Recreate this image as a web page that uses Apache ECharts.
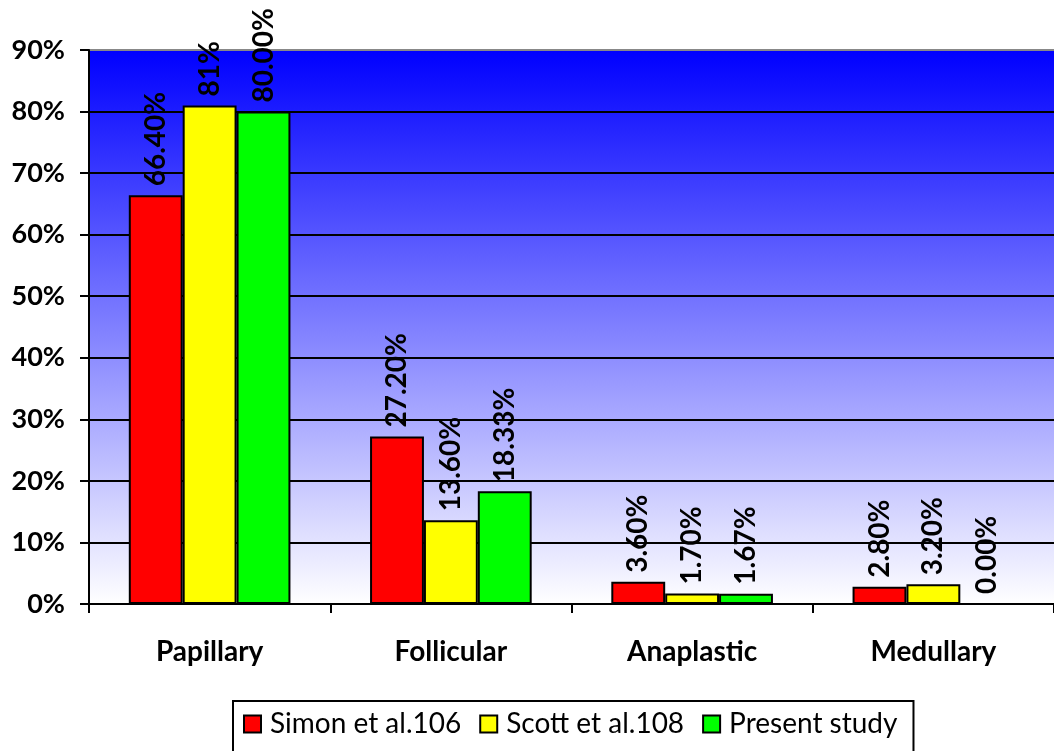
<!DOCTYPE html>
<html>
<head>
<meta charset="utf-8">
<script src="https://cdn.jsdelivr.net/npm/echarts@6/dist/echarts.min.js"></script>
<style>
  html, body { margin: 0; padding: 0; background: #ffffff; }
  #chart { width: 1054px; height: 751px; }
</style>
</head>
<body>
<div id="chart"></div>
<script>
// Thyroid carcinoma types: share of cases in each study (%)
const categories = ['Papillary', 'Follicular', 'Anaplastic', 'Medullary'];
const seriesNames = ['Simon et al.106', 'Scott et al.108', 'Present study'];
const simonValues = [66.4, 27.2, 3.6, 2.8];
const scottValues = [81, 13.6, 1.7, 3.2];
const presentValues = [80, 18.33, 1.67, 0];
// decimals shown in each value label
const simonDecimals = [2, 2, 2, 2];
const scottDecimals = [0, 2, 2, 2];
const presentDecimals = [2, 2, 2, 2];
const yTicks = { min: 0, max: 90, interval: 10 };

const FONT = 'Lato';
const barColors = ['#ff0000', '#ffff00', '#00ff00'];

function makeSeries(name, values, decimals, color) {
  return {
    name: name,
    type: 'bar',
    data: values,
    barGap: '0%',
    barCategoryGap: '33%',
    itemStyle: { color: color, borderColor: '#000000', borderWidth: 2 },
    label: {
      show: true,
      position: 'top',
      rotate: 90,
      align: 'left',
      verticalAlign: 'middle',
      distance: 9,
      fontFamily: FONT,
      fontWeight: 'bold',
      fontSize: 28,
      color: '#000000',
      formatter: p => p.value.toFixed(decimals[p.dataIndex]) + '%'
    }
  };
}

const chart = echarts.init(document.getElementById('chart'), null, { renderer: 'canvas' });

// grid lines: black, the top one grey
const splitColors = [];
for (let v = yTicks.min; v <= yTicks.max; v += yTicks.interval) splitColors.push('#000000');
splitColors[splitColors.length - 1] = '#888888';

chart.setOption({
  animation: false,
  textStyle: { fontFamily: FONT },
  grid: {
    left: 89, top: 50, width: 968, height: 554,
    show: true,
    borderWidth: 0,
    backgroundColor: new echarts.graphic.LinearGradient(0, 0, 0, 1, [
      { offset: 0, color: '#0000ff' },
      { offset: 1, color: '#ffffff' }
    ])
  },
  legend: {
    data: seriesNames,
    left: 233,
    top: 701,
    padding: [9, 16, 30, 10],
    borderColor: '#000000',
    borderWidth: 2,
    itemWidth: 17,
    itemHeight: 17,
    itemGap: 18,
    icon: 'rect',
    textStyle: { fontFamily: FONT, fontSize: 28, color: '#000000', padding: [0, 0, 0, 4] }
  },
  xAxis: {
    type: 'category',
    data: categories,
    axisLine: { lineStyle: { color: '#000000', width: 2 } },
    axisTick: { show: true, length: 9, lineStyle: { color: '#000000', width: 2 } },
    axisLabel: {
      margin: 34,
      fontFamily: FONT,
      fontWeight: 'bold',
      fontSize: 28,
      color: '#000000'
    }
  },
  yAxis: {
    type: 'value',
    min: yTicks.min,
    max: yTicks.max,
    interval: yTicks.interval,
    axisLine: { show: true, lineStyle: { color: '#000000', width: 2 } },
    axisTick: { show: true, length: 9, lineStyle: { color: '#000000', width: 2 } },
    splitLine: { show: true, lineStyle: { color: splitColors, width: 2 } },
    axisLabel: {
      margin: 24,
      fontFamily: FONT,
      fontWeight: 'bold',
      fontSize: 27,
      color: '#000000',
      formatter: '{value}%'
    }
  },
  series: [
    makeSeries(seriesNames[0], simonValues, simonDecimals, barColors[0]),
    makeSeries(seriesNames[1], scottValues, scottDecimals, barColors[1]),
    makeSeries(seriesNames[2], presentValues, presentDecimals, barColors[2])
  ]
});
</script>
</body>
</html>
